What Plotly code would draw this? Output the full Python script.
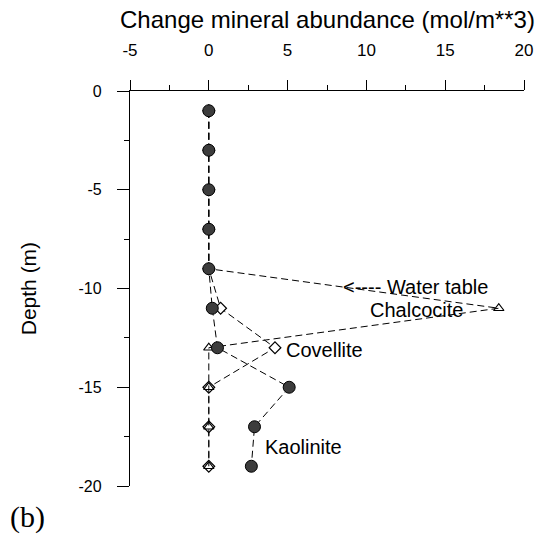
import plotly.graph_objects as go

depth = [-1, -3, -5, -7, -9, -11, -13, -15, -17, -19]
kaolinite = [0, 0, 0, 0, 0, 0.22, 0.55, 5.1, 2.9, 2.7]
chalcocite = [0, 0, 0, 0, 0, 18.4, 0, 0, 0, 0]
covellite = [0, 0, 0, 0, 0, 0.75, 4.2, 0, 0, 0]

x_ticks = [-5, 0, 5, 10, 15, 20]
y_ticks = [0, -5, -10, -15, -20]

line_style = dict(color="black", width=1, dash="7px,4px")

fig = go.Figure()
fig.add_trace(go.Scatter(x=covellite, y=depth, mode="lines+markers", name="Covellite",
                         line=line_style,
                         marker=dict(symbol="diamond", size=9, color="white",
                                     line=dict(color="black", width=1.2))))
fig.add_trace(go.Scatter(x=chalcocite, y=depth, mode="lines+markers", name="Chalcocite",
                         line=line_style,
                         marker=dict(symbol="triangle-up-open", size=9, color="black",
                                     line=dict(color="black", width=1.2))))
fig.add_trace(go.Scatter(x=kaolinite, y=depth, mode="lines+markers", name="Kaolinite",
                         line=line_style,
                         marker=dict(symbol="circle", size=12, color="#3c3c3c",
                                     line=dict(color="black", width=1))))

font_main = "Liberation Sans, Arial, sans-serif"

fig.update_layout(
    width=545, height=537,
    margin=dict(l=130, r=15, t=91, b=51),
    paper_bgcolor="white", plot_bgcolor="white",
    showlegend=False,
    font=dict(family=font_main, color="black", size=17),
    xaxis=dict(range=[-5, 20], side="top", showline=True, linecolor="black", linewidth=1.3,
               ticks="outside", ticklen=10, tickcolor="black", tickwidth=1.3,
               tickvals=x_ticks, ticktext=[str(v) for v in x_ticks],
               ticklabelstandoff=17,
               minor=dict(tickvals=[-2.5, 2.5, 7.5, 12.5, 17.5], ticklen=5,
                          ticks="outside", tickcolor="black", tickwidth=1.3),
               showgrid=False, zeroline=False, tickfont=dict(size=17)),
    yaxis=dict(range=[-20, 0], showline=True, linecolor="black", linewidth=1.3,
               ticks="outside", ticklen=12, tickcolor="black", tickwidth=1.3,
               tickvals=y_ticks, ticktext=[str(v) for v in y_ticks],
               ticklabelstandoff=12,
               minor=dict(tickvals=[-2.5, -7.5, -12.5, -17.5], ticklen=5,
                          ticks="outside", tickcolor="black", tickwidth=1.3),
               showgrid=False, zeroline=False, tickfont=dict(size=16)),
)

annos = [
    dict(text="Change mineral abundance (mol/m**3)", x=0.5, y=1.18, xref="paper", yref="paper",
         xanchor="center", yanchor="middle", font=dict(size=24)),
    dict(text="Depth (m)", x=-0.257, y=0.5, xref="paper", yref="paper", textangle=-90,
         xanchor="center", yanchor="middle", font=dict(size=21)),
    dict(text="(b)", x=-0.31, y=-0.078, xref="paper", yref="paper",
         xanchor="left", yanchor="middle",
         font=dict(size=30, family="Liberation Serif, Times New Roman, serif")),
    dict(text="<---- Water table", x=8.4, y=-9.9, xanchor="left", yanchor="middle",
         font=dict(size=20)),
    dict(text="Chalcocite", x=10.1, y=-11.1, xanchor="left", yanchor="middle",
         font=dict(size=20)),
    dict(text="Covellite", x=4.75, y=-13.1, xanchor="left", yanchor="middle",
         font=dict(size=20)),
    dict(text="Kaolinite", x=3.45, y=-18.0, xanchor="left", yanchor="middle",
         font=dict(size=20)),
]
for a in annos:
    a.setdefault("showarrow", False)
    fig.add_annotation(**a)

fig.write_html("out.html")
